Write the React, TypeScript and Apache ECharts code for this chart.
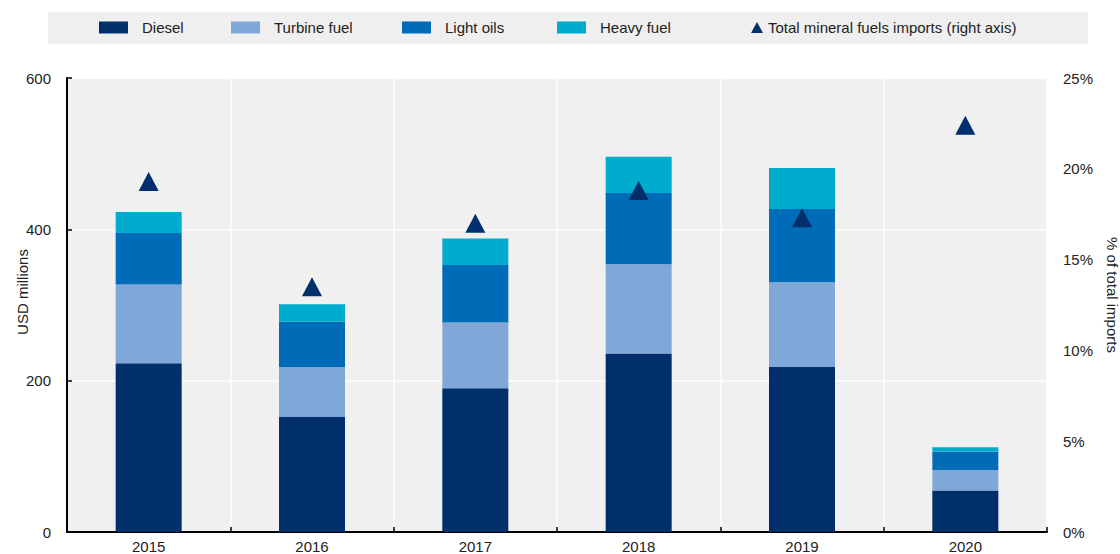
import React, { useEffect, useRef } from "react";
import * as echarts from "echarts";

const years = ["2015", "2016", "2017", "2018", "2019", "2020"];
const diesel = [223, 152, 190, 236, 218, 55];
const turbineFuel = [104, 66, 87, 118, 112, 27];
const lightOils = [68, 60, 76, 94, 97, 24];
const heavyFuel = [28, 23, 35, 48, 54, 6];
const totalShare = [19.3, 13.5, 17.0, 18.8, 17.3, 22.4];

const leftTicks = { min: 0, max: 600, interval: 200 };
const rightTicks = { min: 0, max: 25, interval: 5 };

const FONT = "'Liberation Sans', Arial, Helvetica, sans-serif";
const FS = 15;
const TEXT = "#222222";

const C_DIESEL = "#002F6C";
const C_TURBINE = "#7FA8D9";
const C_LIGHT = "#006BB6";
const C_HEAVY = "#00ACCD";

const TRI_NAME = "Total mineral fuels imports (right axis)";

export default function App() {
  const ref = useRef<HTMLDivElement>(null);
  useEffect(() => {
    if (!ref.current) return;
    const chart = echarts.init(ref.current, undefined, { renderer: "svg" });
    const rectLegend = (name: string, left: number) => ({
      data: [name],
      left,
      top: 20,
      padding: 0,
      itemWidth: 29,
      itemHeight: 12,
      icon: "rect",
      selectedMode: false,
      textStyle: { fontFamily: FONT, fontSize: FS, color: TEXT, padding: [0, 0, 0, 9] },
    });
    const barSeries = (name: string, data: number[], color: string) => ({
      name,
      type: "bar",
      stack: "fuels",
      data,
      barWidth: 66,
      itemStyle: { color },
      yAxisIndex: 0,
    });
    chart.setOption({
      animation: false,
      textStyle: { fontFamily: FONT },
      graphic: [
        {
          type: "rect",
          z: 0,
          shape: { x: 48, y: 12, width: 1040, height: 32 },
          style: { fill: "#EFEFEF" },
        },
      ],
      legend: [
        rectLegend("Diesel", 99),
        rectLegend("Turbine fuel", 231),
        rectLegend("Light oils", 402),
        rectLegend("Heavy fuel", 557),
        {
          data: [TRI_NAME],
          left: 751,
          top: 20,
          padding: 0,
          itemWidth: 12,
          itemHeight: 11,
          icon: "triangle",
          selectedMode: false,
          textStyle: { fontFamily: FONT, fontSize: FS, color: TEXT, padding: [0, 0, 0, 0] },
        },
      ],
      grid: {
        left: 67,
        right: 73,
        top: 78,
        bottom: 22,
        show: true,
        backgroundColor: "#F0F0F0",
        borderWidth: 0,
        containLabel: false,
        outerBoundsMode: "none",
      },
      xAxis: {
        type: "category",
        data: years,
        axisLine: { show: true, lineStyle: { color: "#000", width: 2 } },
        axisTick: { show: true, inside: true, length: 5, lineStyle: { color: "#000", width: 1.5 } },
        axisLabel: { color: TEXT, fontFamily: FONT, fontSize: FS, lineHeight: 14, margin: 7 },
        splitLine: { show: true, lineStyle: { color: "#FFFFFF", width: 1.5 } },
      },
      yAxis: [
        {
          type: "value",
          min: leftTicks.min,
          max: leftTicks.max,
          interval: leftTicks.interval,
          name: "USD millions",
          nameLocation: "middle",
          nameGap: 37,
          nameMoveOverlap: false,
          nameTextStyle: { color: TEXT, fontFamily: FONT, fontSize: FS, padding: [0, 0, 0, 26] },
          axisLine: { show: true, lineStyle: { color: "#000", width: 2 } },
          axisTick: { show: true, inside: true, length: 5, lineStyle: { color: "#000", width: 1.5 } },
          axisLabel: { color: TEXT, fontFamily: FONT, fontSize: FS, margin: 16 },
          splitLine: { show: true, lineStyle: { color: "#FFFFFF", width: 1.5 } },
        },
        {
          type: "value",
          min: rightTicks.min,
          max: rightTicks.max,
          interval: rightTicks.interval,
          position: "right",
          name: "% of total imports",
          nameLocation: "middle",
          nameRotate: -90,
          nameGap: 58,
          nameMoveOverlap: false,
          nameTextStyle: { color: TEXT, fontFamily: FONT, fontSize: FS, padding: [0, 20, 0, 0] },
          axisLine: { show: false },
          axisTick: { show: false },
          axisLabel: { color: TEXT, fontFamily: FONT, fontSize: FS, margin: 16, formatter: "{value}%" },
          splitLine: { show: false },
        },
      ],
      series: [
        barSeries("Diesel", diesel, C_DIESEL),
        barSeries("Turbine fuel", turbineFuel, C_TURBINE),
        barSeries("Light oils", lightOils, C_LIGHT),
        barSeries("Heavy fuel", heavyFuel, C_HEAVY),
        {
          name: TRI_NAME,
          type: "scatter",
          yAxisIndex: 1,
          data: totalShare,
          symbol: "triangle",
          symbolSize: [20, 19],
          itemStyle: { color: C_DIESEL, opacity: 1 },
          z: 5,
        },
      ],
    });
    return () => chart.dispose();
  }, []);
  return (
    <div
      ref={ref}
      style={{ position: "absolute", left: 0, top: 0, width: 1120, height: 554 }}
    />
  );
}
